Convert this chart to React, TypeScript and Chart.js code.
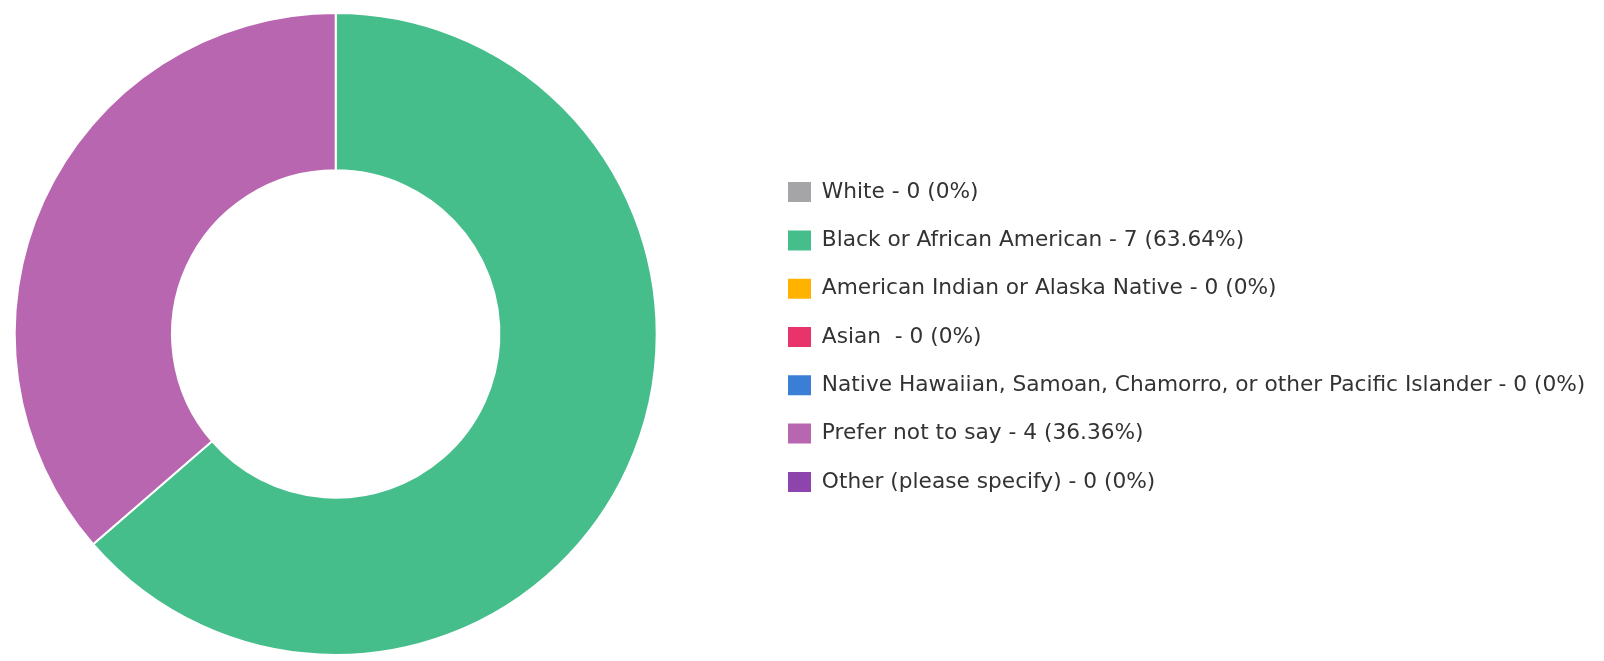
import React, { useEffect, useRef } from "react";
import { Chart, registerables } from "chart.js";

Chart.register(...registerables);

const categories: string[] = [
  "White",
  "Black or African American",
  "American Indian or Alaska Native",
  "Asian ",
  "Native Hawaiian, Samoan, Chamorro, or other Pacific Islander",
  "Prefer not to say",
  "Other (please specify)",
];
const counts: number[] = [0, 7, 0, 0, 0, 4, 0];
const colors: string[] = ["#A5A5A8", "#46BE8C", "#FFB300", "#E8346B", "#3A7FD5", "#B966B0", "#8E44AD"];

const PAGE_W = 1588;
const CANVAS_H = 652;
const FONT_SIZE = 21.7;
const FONT_FAMILY = '"DejaVu Sans", sans-serif';
const LEGEND_PAD = 26.6;
const BOX_W = 23;
const BOX_H = 20;
const BOX_PAGE_X = 788; // legend swatch left edge on the page
const DONUT_CX_PAGE = 335.5; // donut centre on the page
// shift the canvas left so the donut is centred in the chart area left of the legend
const SHIFT = Math.round(BOX_PAGE_X + 8 - LEGEND_PAD - 2 * DONUT_CX_PAGE);
const EXTRA = 60;
const CANVAS_W = PAGE_W + SHIFT + EXTRA;

function pct(v: number, total: number): string {
  if (!total) return "0";
  return String(Number(((v / total) * 100).toFixed(2)));
}

export default function App() {
  const ref = useRef<HTMLCanvasElement | null>(null);

  useEffect(() => {
    if (!ref.current) return;
    const total = counts.reduce((a, b) => a + b, 0);
    const texts = categories.map((c, i) => `${c} - ${counts[i]} (${pct(counts[i], total)}%)`);

    const m = document.createElement("canvas").getContext("2d")!;
    m.font = `${FONT_SIZE}px ${FONT_FAMILY}`;
    const maxW = Math.max(...texts.map((t) => m.measureText(t).width));
    const legendW = LEGEND_PAD + BOX_W + FONT_SIZE / 2 + maxW + 10;
    const legendLeft = BOX_PAGE_X - 8 + SHIFT - LEGEND_PAD;
    const rightPad = Math.max(0, CANVAS_W - legendLeft - legendW);

    const chart = new Chart(ref.current, {
      type: "doughnut",
      data: {
        labels: categories,
        datasets: [
          {
            data: counts,
            backgroundColor: colors,
            borderColor: "#ffffff",
            borderWidth: 2,
          },
        ],
      },
      options: {
        responsive: true,
        maintainAspectRatio: false,
        animation: false,
        cutout: "51%",
        layout: { padding: { top: 4, bottom: 4, left: 0, right: rightPad } },
        plugins: {
          tooltip: { enabled: false },
          legend: {
            display: true,
            position: "right",
            align: "center",
            maxWidth: 3000,
            title: {
              display: true,
              text: " ",
              color: "rgba(0,0,0,0)",
              padding: 0,
              font: { size: 6, lineHeight: 1 },
            },
            labels: {
              boxWidth: BOX_W,
              boxHeight: BOX_H,
              padding: LEGEND_PAD,
              color: "#333333",
              font: { size: FONT_SIZE, family: FONT_FAMILY },
              generateLabels: (ch: any) => {
                const base = (Chart as any).overrides.doughnut.plugins.legend.labels.generateLabels(ch);
                return base.map((it: any, i: number) => ({
                  ...it,
                  text: texts[i],
                  lineWidth: 0,
                  strokeStyle: colors[i],
                  fillStyle: colors[i],
                }));
              },
            },
          },
        },
      },
    });
    return () => chart.destroy();
  }, []);

  return (
    <div style={{ width: PAGE_W, overflow: "hidden" }}>
      <div style={{ width: CANVAS_W, height: CANVAS_H, position: "relative", marginLeft: -SHIFT }}>
        <canvas ref={ref} />
      </div>
    </div>
  );
}
